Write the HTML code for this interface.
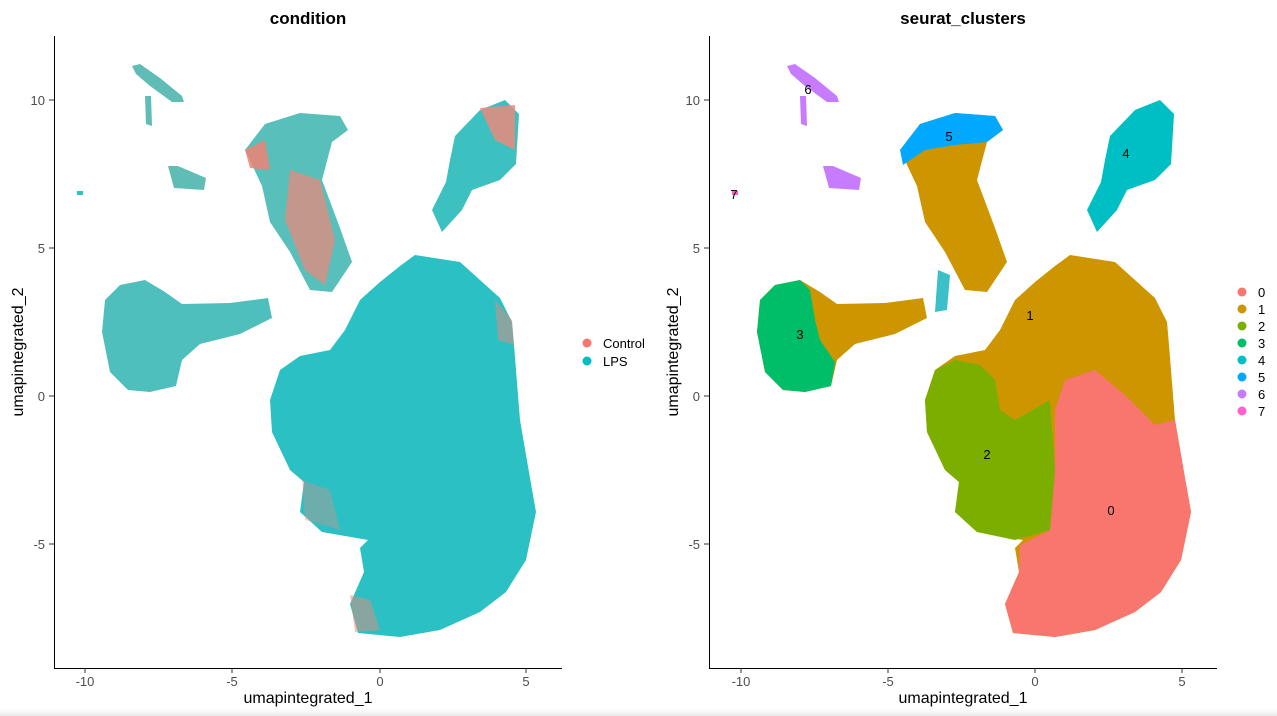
<!DOCTYPE html>
<html><head><meta charset="utf-8"><style>
html,body{margin:0;padding:0;background:#fff;}
svg{display:block;font-family:"Liberation Sans",sans-serif;}
</style></head><body>
<svg width="1277" height="716" viewBox="0 0 1277 716">
<rect width="1277" height="716" fill="#fff"/>
<defs>
<path id="main" d="M415,255 L460,262 L500,298 L512,322 L514,345 L520,420 L530,478 L536,512 L526,560 L506,592 L480,612 L440,630 L400,637 L358,633 L350,604 L364,572 L360,548 L368,540 L322,532 L300,512 L304,482 L290,470 L272,432 L270,400 L280,370 L300,356 L330,350 L345,330 L360,300 L380,282 L400,266 Z"/>
<path id="leftb" d="M105,300 L120,285 L145,280 L165,292 L182,304 L230,303 L268,298 L272,318 L240,334 L200,344 L182,360 L176,386 L150,392 L128,390 L110,372 L102,332 Z"/>
<path id="arm" d="M245,150 L265,124 L300,113 L340,116 L348,130 L332,142 L322,180 L340,228 L352,262 L332,292 L310,290 L290,252 L270,222 L262,186 Z"/>
<path id="arm4" d="M455,136 L480,110 L505,100 L519,114 L516,164 L500,180 L472,190 L462,210 L442,232 L432,210 L446,182 L450,160 Z"/>
<path id="c6a" d="M132,66 L140,64 L160,78 L182,96 L184,102 L172,102 L150,86 L136,74 Z"/>
<path id="c6b" d="M145,96 L151,96 L152,126 L146,124 Z"/>
<path id="c6c" d="M168,166 L178,166 L206,178 L204,190 L174,188 Z"/>
</defs>

<!-- LEFT PANEL -->
<g>
<use href="#main" fill="#2bc0c3"/>
<use href="#leftb" fill="#4fbfbd"/>
<use href="#arm" fill="#58bfba"/>
<use href="#arm4" fill="#3cc0c0"/>
<path d="M290,170 L320,180 L335,240 L325,285 L305,270 L285,220 Z" fill="#e88a7d" opacity="0.75"/>
<path d="M480,108 L515,105 L515,150 L495,140 Z" fill="#e88a7d" opacity="0.85"/>
<path d="M245,150 L265,140 L270,170 L250,168 Z" fill="#ee8275" opacity="0.85"/>
<use href="#c6a" fill="#60bdb6"/><use href="#c6b" fill="#60bdb6"/><use href="#c6c" fill="#60bdb6"/>
<rect x="77" y="191" width="6" height="4" fill="#2bc0c3"/>
<path d="M350,595 L370,600 L380,630 L355,632 Z" fill="#e88a7d" opacity="0.5"/>
<path d="M302,480 L330,490 L340,530 L305,520 Z" fill="#e88a7d" opacity="0.35"/>
<path d="M495,300 L512,320 L514,345 L498,340 Z" fill="#e88a7d" opacity="0.5"/>
</g>
<!-- left axes -->
<g stroke="#000" stroke-width="1" fill="none">
<path d="M54.5,36 V668.5 H562"/>
<path d="M85,668 v5 M232,668 v5 M380,668 v5 M526,668 v5 M49,100 h5 M49,248 h5 M49,396 h5 M49,544 h5" stroke="#333"/>
</g>
<g font-size="13" fill="#4d4d4d">
<text x="85" y="686" text-anchor="middle">-10</text>
<text x="232" y="686" text-anchor="middle">-5</text>
<text x="380" y="686" text-anchor="middle">0</text>
<text x="526" y="686" text-anchor="middle">5</text>
<text x="45" y="105" text-anchor="end">10</text>
<text x="45" y="253" text-anchor="end">5</text>
<text x="45" y="401" text-anchor="end">0</text>
<text x="45" y="549" text-anchor="end">-5</text>
</g>
<text x="308" y="703" font-size="16" text-anchor="middle">umapintegrated_1</text>
<text transform="translate(23,352) rotate(-90)" font-size="16" text-anchor="middle">umapintegrated_2</text>
<text x="308" y="24" font-size="17" font-weight="bold" text-anchor="middle">condition</text>
<circle cx="587" cy="343" r="4.5" fill="#F8766D"/>
<circle cx="587" cy="361" r="4.5" fill="#00BFC4"/>
<text x="603" y="348" font-size="13">Control</text>
<text x="603" y="366" font-size="13">LPS</text>

<!-- RIGHT PANEL -->
<g transform="translate(655,0)">
<use href="#main" fill="#cd9600"/>
<use href="#leftb" fill="#cd9600"/>
<use href="#arm" fill="#cd9600"/>
<use href="#arm4" fill="#00bfc4"/>
<path d="M105,300 L120,285 L145,280 L155,290 L160,320 L165,340 L180,362 L176,386 L150,392 L128,390 L110,372 L102,332 Z" fill="#00be67"/>
<path d="M245,150 L265,124 L300,113 L340,116 L348,130 L332,142 L300,145 L270,150 L248,165 Z" fill="#00a9ff"/>
<path d="M283,270 L295,275 L292,310 L280,312 Z" fill="#3bbfc8"/>
<path d="M410,380 L440,370 L470,395 L500,425 L520,420 L530,478 L536,512 L526,560 L506,592 L480,612 L440,630 L400,637 L358,633 L350,604 L364,572 L365,545 L395,530 L400,470 L400,410 Z" fill="#f8766d"/>
<path d="M280,370 L300,360 L325,365 L340,380 L345,410 L360,420 L395,400 L400,470 L395,530 L360,540 L322,532 L300,512 L304,482 L290,470 L272,432 L270,400 Z" fill="#7cae00"/>
<use href="#c6a" fill="#c77cff"/><use href="#c6b" fill="#c77cff"/><use href="#c6c" fill="#c77cff"/>
<rect x="77" y="191" width="6" height="4" fill="#ff61cc"/>
<g font-size="13" fill="#000">
<text x="456" y="515" text-anchor="middle">0</text>
<text x="375" y="320" text-anchor="middle">1</text>
<text x="332" y="459" text-anchor="middle">2</text>
<text x="145" y="339" text-anchor="middle">3</text>
<text x="471" y="158" text-anchor="middle">4</text>
<text x="294" y="141" text-anchor="middle">5</text>
<text x="153" y="94" text-anchor="middle">6</text>
<text x="79" y="199" text-anchor="middle">7</text>
</g>
<g stroke="#000" stroke-width="1" fill="none">
<path d="M54.5,36 V668.5 H562"/>
<path d="M86,668 v5 M233,668 v5 M380,668 v5 M527,668 v5 M49,100 h5 M49,248 h5 M49,396 h5 M49,544 h5" stroke="#333"/>
</g>
<g font-size="13" fill="#4d4d4d">
<text x="86" y="686" text-anchor="middle">-10</text>
<text x="233" y="686" text-anchor="middle">-5</text>
<text x="380" y="686" text-anchor="middle">0</text>
<text x="527" y="686" text-anchor="middle">5</text>
<text x="45" y="105" text-anchor="end">10</text>
<text x="45" y="253" text-anchor="end">5</text>
<text x="45" y="401" text-anchor="end">0</text>
<text x="45" y="549" text-anchor="end">-5</text>
</g>
<text x="308" y="703" font-size="16" text-anchor="middle">umapintegrated_1</text>
<text transform="translate(23,352) rotate(-90)" font-size="16" text-anchor="middle">umapintegrated_2</text>
<text x="308" y="24" font-size="17" font-weight="bold" text-anchor="middle">seurat_clusters</text>
</g>
<g font-size="13">
<circle cx="1242" cy="292" r="4.5" fill="#F8766D"/><text x="1258" y="297">0</text>
<circle cx="1242" cy="309" r="4.5" fill="#CD9600"/><text x="1258" y="314">1</text>
<circle cx="1242" cy="326" r="4.5" fill="#7CAE00"/><text x="1258" y="331">2</text>
<circle cx="1242" cy="343" r="4.5" fill="#00BE67"/><text x="1258" y="348">3</text>
<circle cx="1242" cy="360" r="4.5" fill="#00BFC4"/><text x="1258" y="365">4</text>
<circle cx="1242" cy="377" r="4.5" fill="#00A9FF"/><text x="1258" y="382">5</text>
<circle cx="1242" cy="394" r="4.5" fill="#C77CFF"/><text x="1258" y="399">6</text>
<circle cx="1242" cy="411" r="4.5" fill="#FF61CC"/><text x="1258" y="416">7</text>
</g>
<defs><linearGradient id="bg" x1="0" y1="0" x2="0" y2="1"><stop offset="0" stop-color="#fff" stop-opacity="0"/><stop offset="1" stop-color="#e8e8e8"/></linearGradient></defs>
<rect x="0" y="706" width="1277" height="10" fill="url(#bg)"/>
</svg>
</body></html>
